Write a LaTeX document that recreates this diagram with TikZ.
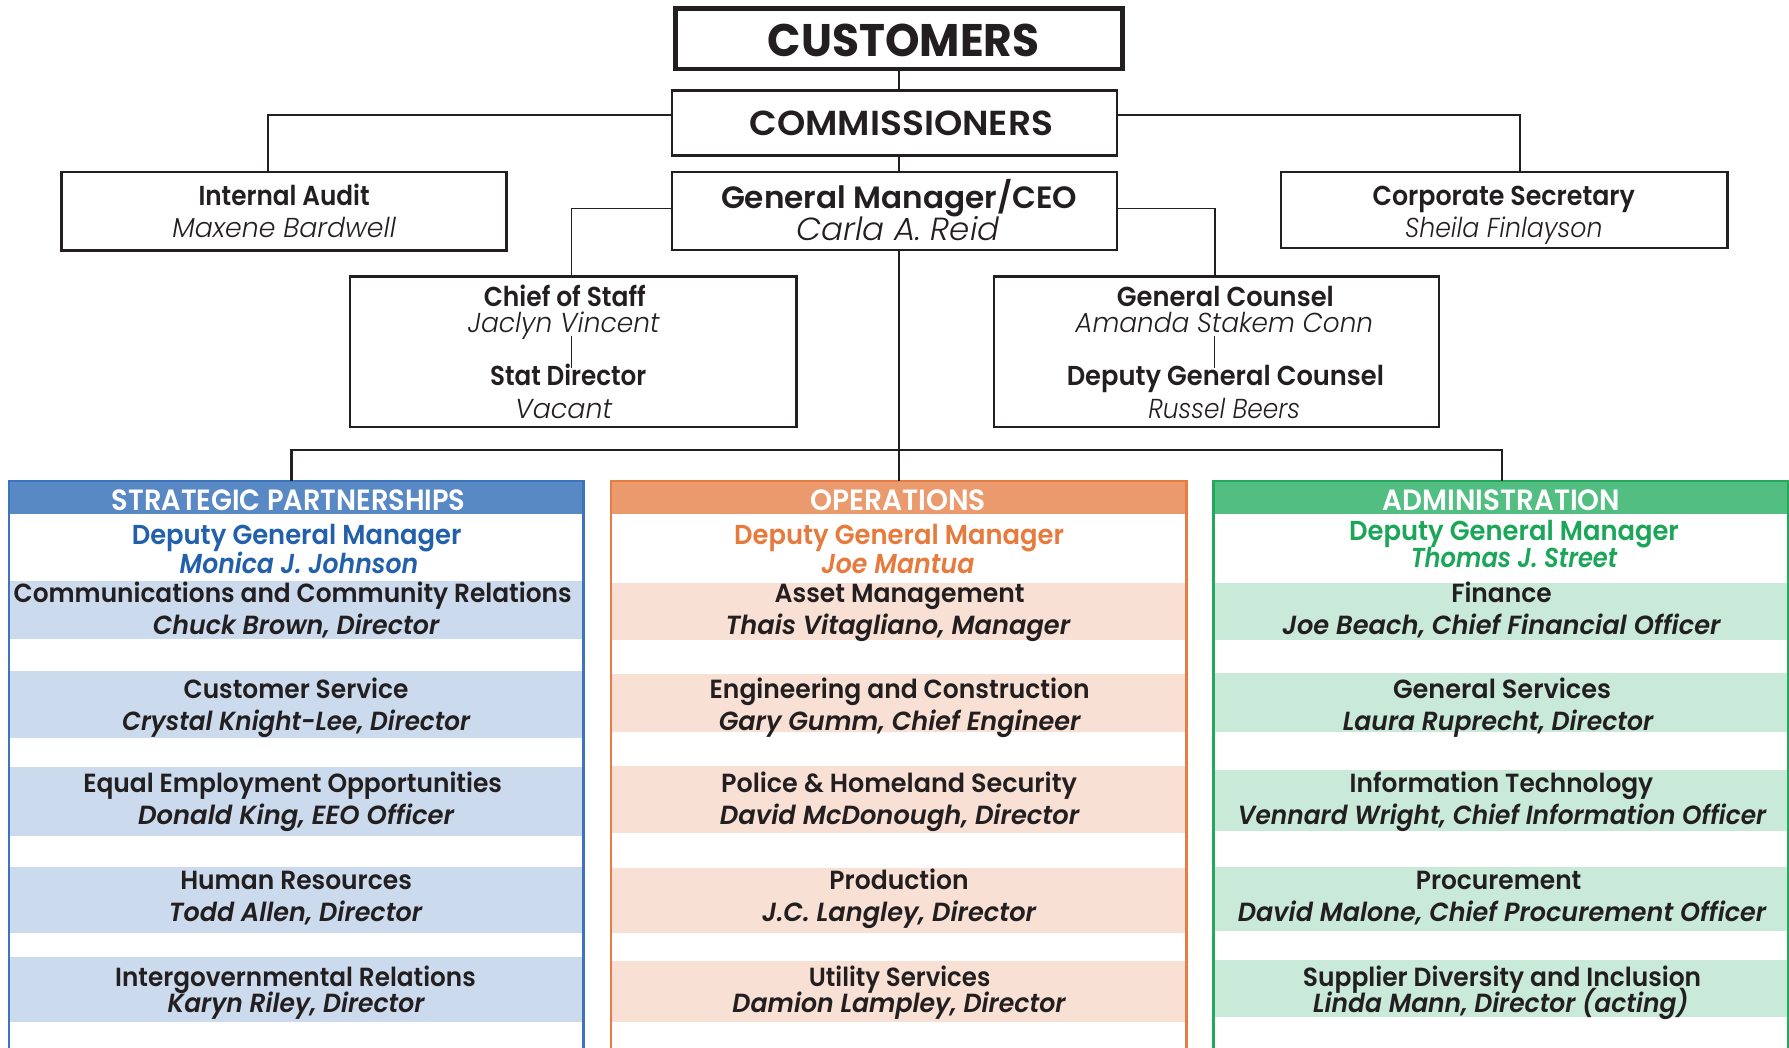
\documentclass[tikz,border=0pt]{standalone}
\usepackage{fontspec}
\usepackage{graphicx}
\setmainfont{Poppins}
\IfFontExistsTF{Poppins SemiBold}{\newfontfamily\fsemi{Poppins SemiBold}}{\newcommand\fsemi{\bfseries}}
\IfFontExistsTF{Poppins Medium}{\newfontfamily\fmed{Poppins Medium}}{\newcommand\fmed{\mdseries}}
\IfFontExistsTF{Poppins Light}{\newfontfamily\flight{Poppins Light}}{\newcommand\flight{\mdseries}}
\newcommand\fw[2]{\resizebox{#1pt}{\height}{#2}}
\definecolor{ink}{HTML}{231F20}
\definecolor{spb}{HTML}{3C75BE}
\definecolor{sph}{HTML}{5889C4}
\definecolor{spt}{HTML}{2360AC}
\definecolor{spf}{HTML}{CBDBED}
\definecolor{opb}{HTML}{E57E45}
\definecolor{oph}{HTML}{EA9A6D}
\definecolor{opt}{HTML}{E77A3D}
\definecolor{opf}{HTML}{F8E0D5}
\definecolor{adb}{HTML}{23A85C}
\definecolor{adh}{HTML}{52BE82}
\definecolor{adt}{HTML}{1BA65A}
\definecolor{adf}{HTML}{C9EAD9}
\tikzset{
  txt/.style={anchor=base, inner sep=0pt, outer sep=0pt, text=ink},
  ttl/.style={txt, font=\fsemi\fontsize{24}{24}\selectfont},
  nm/.style={txt, font=\flight\itshape\fontsize{24}{24}\selectfont},
  dept/.style={txt, font=\fsemi\fontsize{23}{23}\selectfont},
  dname/.style={txt, font=\fsemi\itshape\fontsize{23}{23}\selectfont},
  hdr/.style={txt, text=white, font=\fsemi\fontsize{25.7}{26}\selectfont},
  dgm/.style={txt, font=\fsemi\fontsize{24}{24}\selectfont},
  dgmn/.style={txt, font=\fsemi\itshape\fontsize{24}{24}\selectfont},
  box/.style={draw=ink, line width=2pt, inner sep=0pt, outer sep=0pt, fill=white},
  col/.style={line width=2.2pt, inner sep=0pt, outer sep=0pt, anchor=north west},
  conn/.style={draw=ink, line width=1.3pt},
  busline/.style={draw=ink, line width=2.4pt},
  mini/.style={draw=ink, line width=0.8pt}
}
\begin{document}
\begin{tikzpicture}[x=1pt,y=-1pt]
\useasboundingbox (0,0) rectangle (1568,918);
\fill[white] (0,0) rectangle (1568,918);
% ---------- top boxes ----------
\node[box, line width=4pt, minimum width=392pt, minimum height=53pt] (cust) at (788,34) {};
\node[box, minimum width=390pt, minimum height=57pt] (comm) at (784,107.7) {};
\node[box, minimum width=390pt, minimum height=68pt] (gm) at (784,185) {};
\node[box, minimum width=390pt, minimum height=68.5pt] (ia) at (249,185.2) {};
\node[box, minimum width=391pt, minimum height=67pt] (cs) at (1318.5,184.1) {};
\node[box, minimum width=391pt, minimum height=131.5pt] (cos) at (502.5,308.2) {};
\node[box, minimum width=390pt, minimum height=131.5pt] (gc) at (1066,308.2) {};
% texts
\node[txt, font=\bfseries\fontsize{40}{40}\selectfont] (tcust) at (792,49.7) {\fw{238}{CUSTOMERS}};
\node[txt, font=\fsemi\fontsize{30.4}{31}\selectfont] (tcomm) at (790,119) {\fw{266}{COMMISSIONERS}};
\node[txt, font=\fsemi\fontsize{27}{27}\selectfont] (tgm) at (788,182.6) {\fw{312}{General Manager/CEO}};
\node[txt, font=\flight\itshape\fontsize{28}{28}\selectfont] (tgmn) at (787,210.4) {\fw{178}{Carla A. Reid}};
\node[ttl] (tia) at (249,180) {\fw{150}{Internal Audit}};
\node[nm] (tian) at (249,208) {\fw{196}{Maxene Bardwell}};
\node[ttl] (tcs) at (1318,180) {\fw{230}{Corporate Secretary}};
\node[nm] (tcsn) at (1318,208) {\fw{173}{Sheila Finlayson}};
\node[ttl] (tcos) at (495,268.2) {\fw{142}{Chief of Staff}};
\node[nm] (tcosn) at (494,291.6) {\fw{168}{Jaclyn Vincent}};
\node[ttl] (tsd) at (498,338.3) {\fw{137}{Stat Director}};
\node[nm] (tsdn) at (494,366.6) {\fw{85}{Vacant}};
\node[ttl] (tgc) at (1074,268.2) {\fw{190}{General Counsel}};
\node[nm] (tgcn) at (1073,291.6) {\fw{261}{Amanda Stakem Conn}};
\node[ttl] (tdgc) at (1074,338.3) {\fw{278}{Deputy General Counsel}};
\node[nm] (tdgcn) at (1073,366.6) {\fw{133}{Russel Beers}};
\coordinate (m1a) at (501,294.5); \coordinate (m1b) at (501,322.8);
\coordinate (m2a) at (1064,294.5); \coordinate (m2b) at (1064,322.8);
\draw[mini] (m1a) -- (m1b);
\draw[mini] (m2a) -- (m2b);
% ---------- columns: fills ----------
\fill[sph] (8,421.5) rectangle (511.5,450.5);
\fill[oph] (535.3,421.5) rectangle (1039.7,450.5);
\fill[adh] (1063.7,421.5) rectangle (1567,450.5);
\foreach \a/\b in {509/560,588/647,672/733,760/818,839/896}
  \fill[spf] (9,\a) rectangle (510.5,\b);
\foreach \a/\b in {511/561,591/642,671/730,761/818,842/896}
  \fill[opf] (536.3,\a) rectangle (1038.7,\b);
\foreach \a/\b in {511/561,590/642,675/728,760/816,841/891}
  \fill[adf] (1064.7,\a) rectangle (1566,\b);
\node[col, draw=spb, minimum width=503.5pt, minimum height=520pt] (sp) at (8,421.5) {};
\node[col, draw=opb, minimum width=504.4pt, minimum height=520pt] (op) at (535.3,421.5) {};
\node[col, draw=adb, minimum width=503.3pt, minimum height=520pt] (ad) at (1063.7,421.5) {};
% headers
\node[hdr] (hsp) at (253,447.6) {\fw{310}{STRATEGIC PARTNERSHIPS}};
\node[hdr] (hop) at (787,447.6) {\fw{154}{OPERATIONS}};
\node[hdr] (had) at (1316,447.6) {\fw{208}{ADMINISTRATION}};
\node[dgm, text=spt] (dsp) at (260,477) {\fw{289}{Deputy General Manager}};
\node[dgmn, text=spt] (dspn) at (262,503) {\fw{209}{Monica J. Johnson}};
\node[dgm, text=opt] (dop) at (788,477) {\fw{289}{Deputy General Manager}};
\node[dgmn, text=opt] (dopn) at (787,503) {\fw{134}{Joe Mantua}};
\node[dgm, text=adt] (dad) at (1327,474) {\fw{289}{Deputy General Manager}};
\node[dgmn, text=adt] (dadn) at (1327,497) {\fw{181}{Thomas J. Street}};
% strategic partnerships rows
\node[dept] (s1) at (256.5,528) {\fw{489}{Communications and Community Relations}};
\node[dname] (s1n) at (259.5,556) {\fw{251}{Chuck Brown, Director}};
\node[dept] (s2) at (259.5,612) {\fw{197}{Customer Service}};
\node[dname] (s2n) at (259.5,640) {\fw{305}{Crystal Knight-Lee, Director}};
\node[dept] (s3) at (256.5,695) {\fw{367}{Equal Employment Opportunities}};
\node[dname] (s3n) at (259.5,723) {\fw{277}{Donald King, EEO Officer}};
\node[dept] (s4) at (259.5,780) {\fw{203}{Human Resources}};
\node[dname] (s4n) at (259,808) {\fw{222}{Todd Allen, Director}};
\node[dept] (s5) at (259,865) {\fw{316}{Intergovernmental Relations}};
\node[dname] (s5n) at (259.5,887) {\fw{225}{Karyn Riley, Director}};
% operations rows
\node[dept] (o1) at (788.5,528) {\fw{219}{Asset Management}};
\node[dname] (o1n) at (787,556) {\fw{302}{Thais Vitagliano, Manager}};
\node[dept] (o2) at (788.5,612) {\fw{333}{Engineering and Construction}};
\node[dname] (o2n) at (788.5,640) {\fw{317}{Gary Gumm, Chief Engineer}};
\node[dept] (o3) at (788,695) {\fw{312}{Police \& Homeland Security}};
\node[dname] (o3n) at (788.5,723) {\fw{315}{David McDonough, Director}};
\node[dept] (o4) at (788,780) {\fw{122}{Production}};
\node[dname] (o4n) at (788,808) {\fw{240}{J.C. Langley, Director}};
\node[dept] (o5) at (788.5,865) {\fw{159}{Utility Services}};
\node[dname] (o5n) at (788,887) {\fw{292}{Damion Lampley, Director}};
% administration rows
\node[dept] (a1) at (1316,528) {\fw{88}{Finance}};
\node[dname] (a1n) at (1316,556) {\fw{384}{Joe Beach, Chief Financial Officer}};
\node[dept] (a2) at (1316.5,612) {\fw{191}{General Services}};
\node[dname] (a2n) at (1313,640) {\fw{272}{Laura Ruprecht, Director}};
\node[dept] (a3) at (1316,695) {\fw{266}{Information Technology}};
\node[dname] (a3n) at (1316.5,723) {\fw{463}{Vennard Wright, Chief Information Officer}};
\node[dept] (a4) at (1313.5,780) {\fw{145}{Procurement}};
\node[dname] (a4n) at (1316.5,808) {\fw{463}{David Malone, Chief Procurement Officer}};
\node[dept] (a5) at (1316.5,865) {\fw{349}{Supplier Diversity and Inclusion}};
\node[dname] (a5n) at (1315.5,887) {\fw{329}{Linda Mann, Director (acting)}};
% ---------- connectors ----------
\coordinate (cx) at (787.8,0);
\coordinate (iax) at (235,0);
\coordinate (csx) at (1332,0);
\coordinate (cosx) at (501,0);
\coordinate (gcx) at (1065,0);
\coordinate (spx) at (255.6,0);
\coordinate (adx) at (1316.5,0);
\coordinate (bus) at (787.8,394.4);
\draw[conn] (cust.south -| cx) -- (comm.north -| cx);
\draw[conn] (comm.south -| cx) -- (gm.north -| cx);
\draw[conn] ([yshift=6.7pt]comm.west) -| (ia.north -| iax);
\draw[conn] ([yshift=6.7pt]comm.east) -| (cs.north -| csx);
\draw[conn] ([yshift=2.4pt]gm.west) -| (cos.north -| cosx);
\draw[conn] ([yshift=2.4pt]gm.east) -| (gc.north -| gcx);
\draw[conn, line width=2pt] (gm.south -| cx) -- (op.north -| cx);
\draw[busline] (sp.north -| spx) |- (bus) -| (ad.north -| adx);
\end{tikzpicture}
\end{document}
